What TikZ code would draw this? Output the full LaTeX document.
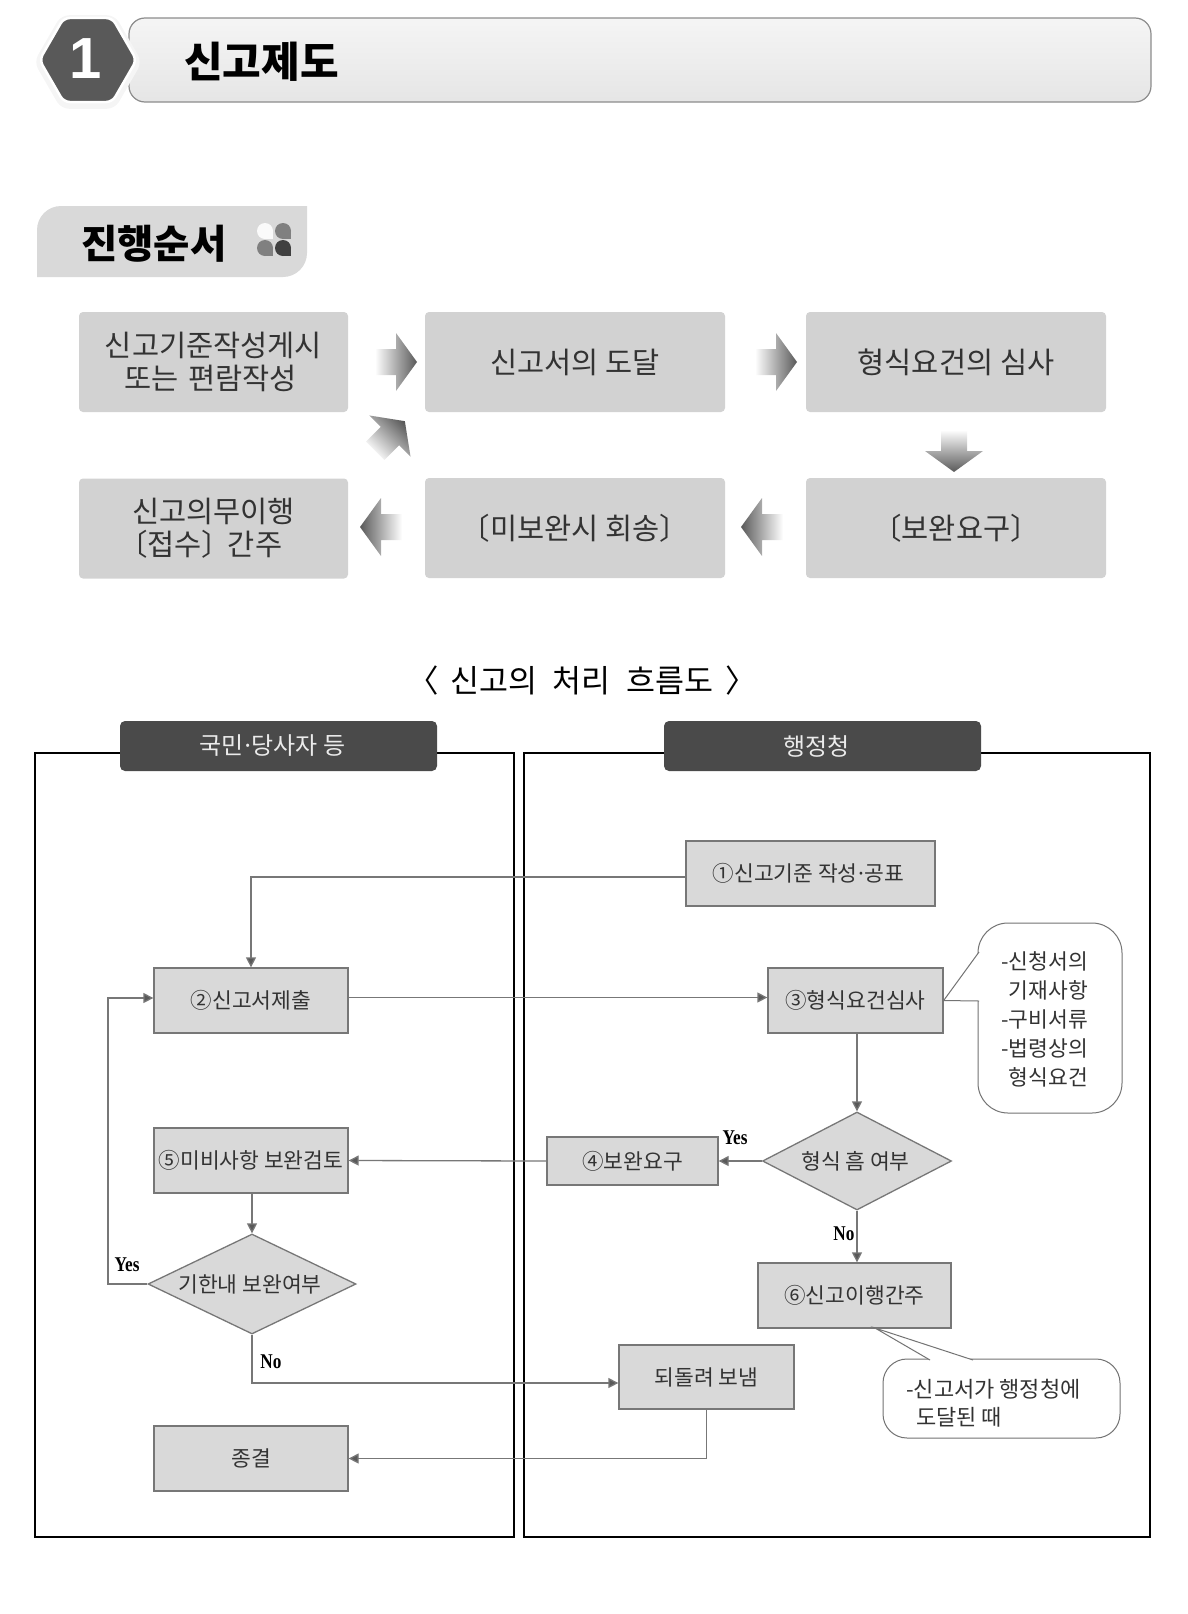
\documentclass[tikz,border=0pt]{standalone}
\usepackage{fontspec}
\setmainfont{Noto Sans CJK KR}
\newfontfamily\latinbold{Liberation Serif}
\newfontfamily\numfont{Liberation Sans}
\usetikzlibrary{arrows.meta,shapes.geometric}
\definecolor{procgray}{HTML}{D2D2D2}
\definecolor{flowgray}{HTML}{D9D9D9}
\definecolor{linegray}{HTML}{777777}
\definecolor{inkgray}{HTML}{333333}
\definecolor{headdark}{HTML}{4A4A4A}
\newcommand{\sz}[2]{\fontsize{#1pt}{#2pt}\selectfont}
\newcommand{\blockarrow}[2]{
    \shade[left color=white,right color=black!65,shading angle=#2+90,shift={(#1)},rotate=#2]
        (-21,-13) -- (0,-13) -- (0,-29) -- (21,0) -- (0,29) -- (0,13) -- (-21,13) -- cycle;
}
\tikzset{
            procbox/.style={fill=procgray,rounded corners=4pt,minimum width=300pt,minimum height=100pt,inner sep=0pt,align=center,text=inkgray,font=\sz{29.5}{33}},
            flowbox/.style={draw=linegray,line width=1.3pt,fill=flowgray,inner sep=0pt,align=center,text=inkgray,font=\sz{21.5}{28}},
            decision/.style={diamond,aspect=2,draw=linegray,line width=1.3pt,fill=flowgray,inner sep=0pt,text=inkgray,font=\sz{21.5}{28}},
            flowline/.style={draw=linegray,line width=1.3pt,-{Triangle[length=10pt,width=10pt,fill=black!65]}},
            lane/.style={draw=black,line width=2.5pt,fill=white},
            lanehead/.style={fill=headdark,rounded corners=5pt,minimum width=317pt,minimum height=50pt,inner sep=0pt,text=black!8,font=\sz{24}{28}},
            note/.style={draw=black!55,line width=1pt,fill=white,inner sep=0pt},
            notetext/.style={inner sep=0pt,text=inkgray,font=\sz{21.5}{29}},
            yesno/.style={inner sep=0pt,xscale=.82,font=\latinbold\bfseries\sz{21}{21}}
        }

\begin{document}
\begin{tikzpicture}[x=1pt,y=-1pt]
    \useasboundingbox (0,0) rectangle (1188,1614);

    \draw[top color=black!4,bottom color=black!10,draw=black!45,line width=1.2pt,rounded corners=16pt] (129,18) rectangle (1151,102);
    \node[regular polygon,regular polygon sides=6,minimum size=108pt,fill=black!4,rounded corners=8pt] (halo) at (88,62) {};
    \node[regular polygon,regular polygon sides=6,minimum size=97pt,inner sep=0pt,fill=black!65,draw=white,line width=2.5pt,rounded corners=6pt,text=white,font=\numfont\bfseries\sz{58}{58}] (secnum) at (88,60) {\raisebox{2pt}{1}\hspace*{4pt}};
    \node[inner sep=0pt,anchor=west,font=\bfseries\sz{42}{42}] (sectitle) at (184,62) {신고제도};

    \fill[black!15] (37,277) [rounded corners=24pt] -- (37,206) [sharp corners] -- (307,206) [rounded corners=24pt] -- (307,277) [sharp corners] -- cycle;
    \node[inner sep=0pt,anchor=west,font=\bfseries\sz{39.5}{39.5}] (steps) at (81,243.5) {진행순서};
    \foreach \cx/\cy/\tone in {265/231/black!2,283/231/black!50,265/248/black!50,283/248/black!75}{
        \fill[\tone] (\cx,\cy) circle (8);
        \fill[\tone] (\cx,\cy) rectangle (\cx+8,\cy+8);
    }

    \node[procbox,minimum width=269pt] (pa) at (213.5,362) {신고기준작성게시\\또는\hspace{.1em} 편람작성\hspace*{.2em}};
    \node[procbox] (pb) at (575,362) {신고서의 도달};
    \node[procbox] (pc) at (956,362) {형식요건의 심사};
    \node[procbox] (pd) at (956,528) {〔보완요구〕};
    \node[procbox] (pe) at (575,528) {〔미보완시 회송〕};
    \node[procbox,minimum width=269pt] (pf) at (213.5,528.5) {신고의무이행\\〔접수〕\hspace{-.12em}간주\hspace*{.9em}};

    \blockarrow{396,362}{0}
    \blockarrow{776,362}{0}
    \blockarrow{954,451}{-90}
    \blockarrow{762,527}{180}
    \blockarrow{381,527}{180}
    \blockarrow{390,436}{45}

    \node[inner sep=0pt,font=\sz{31.5}{31.5}] (caption) at (582,681) {〈\hspace{.15em} 신고의\hspace{.5em}처리\hspace{.5em}흐름도\hspace{.15em} 〉};

    \draw[lane] (35,753) rectangle (514,1537);
    \draw[lane] (524,753) rectangle (1150,1537);
    \node[lanehead] (citizen) at (278.5,746) {국민\kern-.12em·\kern-.12em당사자 등\hspace*{12pt}};
    \node[lanehead] (agency) at (822.5,746) {행정청\hspace*{12pt}};

    \node[note,rounded corners=30pt,minimum width=144pt,minimum height=190pt] (noteform) at (1050,1018) {};
    \node[note,rounded corners=24pt,minimum width=237pt,minimum height=79pt] (notearr) at (1001.5,1398.5) {};

    \node[flowbox,minimum width=249pt,minimum height=65pt] (publish) at (810.5,873.5) {①신고기준 작성\kern-.12em·\kern-.12em공표\hspace*{4pt}};
    \node[flowbox,minimum width=194pt,minimum height=65pt] (submit) at (251,1000.5) {②신고서제출};
    \node[flowbox,minimum width=175pt,minimum height=65pt] (formal) at (855.5,1000.5) {③형식요건심사};
    \node[decision,minimum width=189pt,minimum height=98pt] (flaw) at (857,1161) {형식 흠 여부\hspace*{3pt}};
    \node[flowbox,minimum width=171pt,minimum height=48pt] (request) at (632.5,1161) {④보완요구};
    \node[flowbox,minimum width=194pt,minimum height=65pt] (review) at (251,1160.5) {⑤미비사항 보완검토};
    \node[decision,minimum width=208pt,minimum height=100pt] (intime) at (252,1284) {기한내 보완여부\hspace*{4pt}};
    \node[flowbox,minimum width=193pt,minimum height=65pt] (deemed) at (854.5,1295.5) {⑥신고이행간주};
    \node[flowbox,minimum width=175pt,minimum height=64pt] (giveback) at (706.5,1377) {되돌려 보냄};
    \node[flowbox,minimum width=194pt,minimum height=65pt] (closed) at (251,1458.5) {종결};

    \coordinate (loopback) at (108,998);
    \draw[flowline] ([yshift=-3.5pt]publish.west) -| (submit.north);
    \draw[flowline] ([yshift=3pt]submit.east) -- ([yshift=3pt]formal.west);
    \draw[flowline] (formal.south -| flaw.north) -- (flaw.north);
    \draw[flowline] (flaw.west) -- (request.east);
    \draw[flowline] (request.west) -- (review.east);
    \draw[flowline] (review.south -| intime.north) -- (intime.north);
    \draw[flowline] (intime.west) -| (loopback) -- (loopback -| submit.west);
    \draw[flowline] (intime.south) |- ([yshift=-6pt]giveback.west);
    \draw[flowline] (giveback.south) |- (closed.east);
    \draw[flowline] (flaw.south) -- (flaw.south |- deemed.north);

    \coordinate (formaltop) at (979,952);
    \coordinate (formalbot) at (979,1001);
    \fill[white] (formaltop) -- (formal.east) -- (formalbot) -- cycle;
    \draw[draw=black!55,line width=1pt] (formaltop) -- (formal.east) -- (formalbot);
    \coordinate (arrtip) at (875,1328);
    \coordinate (arrleft) at (930,1360);
    \coordinate (arrright) at (973,1360);
    \fill[white] (arrleft) -- (arrtip) -- (arrright) -- cycle;
    \draw[draw=black!55,line width=1pt] (arrleft) -- (arrtip) -- (arrright);

    \node[notetext,align=right,anchor=north east] (formtext) at (1088,951) {-신청서의\\기재사항\\-구비서류\\-법령상의\\형식요건};
    \node[notetext,align=left,anchor=west,font=\sz{22}{28}] (arrtext) at (906,1403) {-신고서가 행정청에\\\hspace{.45em}도달된 때};

    \node[yesno] (yesa) at (735,1138) {Yes};
    \node[yesno] (noa) at (844,1234) {No};
    \node[yesno] (yesb) at (127,1265) {Yes};
    \node[yesno] (nob) at (271,1362) {No};
\end{tikzpicture}
\end{document}
